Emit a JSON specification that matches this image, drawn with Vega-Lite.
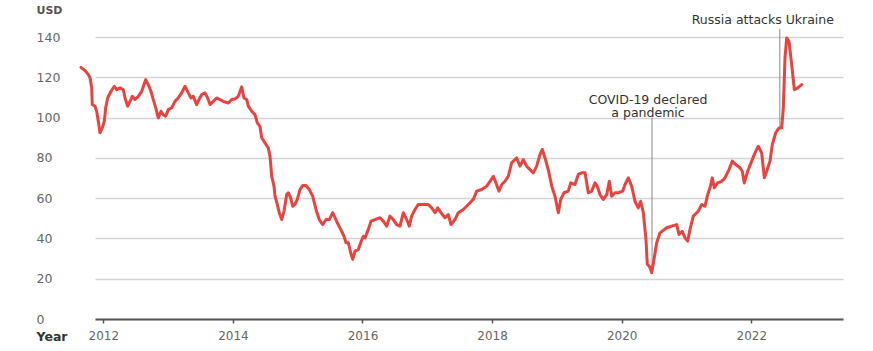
{
  "$schema": "https://vega.github.io/schema/vega-lite/v6.json",
  "width": 748,
  "height": 302,
  "autosize": "none",
  "padding": {"left": 95, "top": 17, "right": 30, "bottom": 32},
  "background": "white",
  "config": {
    "view": {"stroke": null},
    "font": "DejaVu Sans"
  },
  "datasets": {
    "prices": [
      {"year": 2011.656, "price_usd": 125.0}, {"year": 2011.718, "price_usd": 123.4}, {"year": 2011.769, "price_usd": 121.4},
      {"year": 2011.795, "price_usd": 119.8}, {"year": 2011.821, "price_usd": 114.8}, {"year": 2011.830, "price_usd": 106.5},
      {"year": 2011.872, "price_usd": 105.7}, {"year": 2011.898, "price_usd": 103.2}, {"year": 2011.923, "price_usd": 98.2},
      {"year": 2011.949, "price_usd": 92.5}, {"year": 2011.985, "price_usd": 94.9}, {"year": 2012.015, "price_usd": 98.2},
      {"year": 2012.037, "price_usd": 104.9}, {"year": 2012.068, "price_usd": 109.8}, {"year": 2012.119, "price_usd": 113.1},
      {"year": 2012.170, "price_usd": 115.6}, {"year": 2012.207, "price_usd": 113.9}, {"year": 2012.258, "price_usd": 114.8},
      {"year": 2012.309, "price_usd": 113.9}, {"year": 2012.335, "price_usd": 109.8}, {"year": 2012.377, "price_usd": 105.7},
      {"year": 2012.412, "price_usd": 108.1}, {"year": 2012.448, "price_usd": 110.6}, {"year": 2012.489, "price_usd": 109.0},
      {"year": 2012.540, "price_usd": 110.6}, {"year": 2012.593, "price_usd": 113.1}, {"year": 2012.654, "price_usd": 118.9},
      {"year": 2012.694, "price_usd": 116.4}, {"year": 2012.736, "price_usd": 113.1}, {"year": 2012.772, "price_usd": 109.0},
      {"year": 2012.809, "price_usd": 104.9}, {"year": 2012.849, "price_usd": 99.9}, {"year": 2012.890, "price_usd": 103.2},
      {"year": 2012.926, "price_usd": 101.5}, {"year": 2012.963, "price_usd": 100.7}, {"year": 2013.003, "price_usd": 104.0},
      {"year": 2013.056, "price_usd": 104.9}, {"year": 2013.106, "price_usd": 108.1}, {"year": 2013.157, "price_usd": 109.8},
      {"year": 2013.210, "price_usd": 112.3}, {"year": 2013.261, "price_usd": 115.6}, {"year": 2013.312, "price_usd": 112.3},
      {"year": 2013.353, "price_usd": 109.8}, {"year": 2013.389, "price_usd": 110.6}, {"year": 2013.441, "price_usd": 106.5},
      {"year": 2013.477, "price_usd": 109.0}, {"year": 2013.519, "price_usd": 111.5}, {"year": 2013.569, "price_usd": 112.3},
      {"year": 2013.611, "price_usd": 109.8}, {"year": 2013.647, "price_usd": 106.5}, {"year": 2013.698, "price_usd": 108.1},
      {"year": 2013.750, "price_usd": 109.8}, {"year": 2013.801, "price_usd": 109.0}, {"year": 2013.852, "price_usd": 108.1},
      {"year": 2013.929, "price_usd": 107.3}, {"year": 2013.981, "price_usd": 109.0}, {"year": 2014.032, "price_usd": 109.3},
      {"year": 2014.083, "price_usd": 110.6}, {"year": 2014.136, "price_usd": 115.3}, {"year": 2014.171, "price_usd": 109.8},
      {"year": 2014.213, "price_usd": 109.0}, {"year": 2014.238, "price_usd": 105.7}, {"year": 2014.290, "price_usd": 103.2},
      {"year": 2014.341, "price_usd": 101.5}, {"year": 2014.377, "price_usd": 97.4}, {"year": 2014.418, "price_usd": 95.7},
      {"year": 2014.444, "price_usd": 90.0}, {"year": 2014.495, "price_usd": 87.5}, {"year": 2014.546, "price_usd": 85.0},
      {"year": 2014.573, "price_usd": 80.8}, {"year": 2014.599, "price_usd": 70.9}, {"year": 2014.634, "price_usd": 66.0},
      {"year": 2014.650, "price_usd": 61.0}, {"year": 2014.685, "price_usd": 56.9}, {"year": 2014.716, "price_usd": 52.8},
      {"year": 2014.753, "price_usd": 49.4}, {"year": 2014.789, "price_usd": 53.5}, {"year": 2014.830, "price_usd": 61.8},
      {"year": 2014.855, "price_usd": 62.7}, {"year": 2014.892, "price_usd": 60.2}, {"year": 2014.923, "price_usd": 56.0},
      {"year": 2014.958, "price_usd": 56.9}, {"year": 2014.994, "price_usd": 59.4}, {"year": 2015.035, "price_usd": 64.3},
      {"year": 2015.077, "price_usd": 66.3}, {"year": 2015.128, "price_usd": 66.3}, {"year": 2015.179, "price_usd": 64.3},
      {"year": 2015.231, "price_usd": 61.0}, {"year": 2015.282, "price_usd": 54.4}, {"year": 2015.333, "price_usd": 49.4},
      {"year": 2015.386, "price_usd": 46.9}, {"year": 2015.437, "price_usd": 49.4}, {"year": 2015.488, "price_usd": 49.4},
      {"year": 2015.540, "price_usd": 52.8}, {"year": 2015.576, "price_usd": 50.3}, {"year": 2015.611, "price_usd": 47.8},
      {"year": 2015.664, "price_usd": 44.5}, {"year": 2015.715, "price_usd": 41.1}, {"year": 2015.745, "price_usd": 37.9},
      {"year": 2015.781, "price_usd": 37.9}, {"year": 2015.818, "price_usd": 32.9}, {"year": 2015.849, "price_usd": 29.6},
      {"year": 2015.884, "price_usd": 33.7}, {"year": 2015.935, "price_usd": 34.5}, {"year": 2015.972, "price_usd": 37.9},
      {"year": 2016.012, "price_usd": 41.1}, {"year": 2016.039, "price_usd": 40.3}, {"year": 2016.090, "price_usd": 44.5},
      {"year": 2016.131, "price_usd": 48.6}, {"year": 2016.193, "price_usd": 49.4}, {"year": 2016.270, "price_usd": 50.3},
      {"year": 2016.321, "price_usd": 48.6}, {"year": 2016.373, "price_usd": 46.1}, {"year": 2016.424, "price_usd": 51.1},
      {"year": 2016.475, "price_usd": 49.4}, {"year": 2016.528, "price_usd": 46.9}, {"year": 2016.579, "price_usd": 46.1},
      {"year": 2016.630, "price_usd": 52.8}, {"year": 2016.682, "price_usd": 49.4}, {"year": 2016.722, "price_usd": 46.1},
      {"year": 2016.759, "price_usd": 51.1}, {"year": 2016.810, "price_usd": 54.4}, {"year": 2016.861, "price_usd": 56.9},
      {"year": 2016.938, "price_usd": 56.9}, {"year": 2017.015, "price_usd": 56.9}, {"year": 2017.068, "price_usd": 55.2},
      {"year": 2017.119, "price_usd": 52.8}, {"year": 2017.160, "price_usd": 55.2}, {"year": 2017.211, "price_usd": 52.8},
      {"year": 2017.273, "price_usd": 50.3}, {"year": 2017.324, "price_usd": 51.9}, {"year": 2017.366, "price_usd": 46.9},
      {"year": 2017.427, "price_usd": 49.4}, {"year": 2017.478, "price_usd": 52.8}, {"year": 2017.556, "price_usd": 54.4},
      {"year": 2017.633, "price_usd": 56.9}, {"year": 2017.710, "price_usd": 59.4}, {"year": 2017.762, "price_usd": 63.5},
      {"year": 2017.840, "price_usd": 64.3}, {"year": 2017.917, "price_usd": 66.0}, {"year": 2017.968, "price_usd": 68.4},
      {"year": 2018.019, "price_usd": 70.9}, {"year": 2018.060, "price_usd": 67.6}, {"year": 2018.106, "price_usd": 63.5},
      {"year": 2018.148, "price_usd": 66.8}, {"year": 2018.199, "price_usd": 68.4}, {"year": 2018.250, "price_usd": 70.9},
      {"year": 2018.302, "price_usd": 77.6}, {"year": 2018.380, "price_usd": 80.0}, {"year": 2018.431, "price_usd": 75.9},
      {"year": 2018.481, "price_usd": 79.2}, {"year": 2018.534, "price_usd": 75.9}, {"year": 2018.585, "price_usd": 74.2},
      {"year": 2018.636, "price_usd": 72.6}, {"year": 2018.688, "price_usd": 75.9}, {"year": 2018.739, "price_usd": 81.7},
      {"year": 2018.775, "price_usd": 84.2}, {"year": 2018.816, "price_usd": 80.0}, {"year": 2018.867, "price_usd": 74.2},
      {"year": 2018.920, "price_usd": 66.0}, {"year": 2018.971, "price_usd": 61.0}, {"year": 2019.022, "price_usd": 52.8},
      {"year": 2019.059, "price_usd": 59.4}, {"year": 2019.110, "price_usd": 62.7}, {"year": 2019.176, "price_usd": 63.5},
      {"year": 2019.213, "price_usd": 67.6}, {"year": 2019.279, "price_usd": 66.8}, {"year": 2019.330, "price_usd": 71.8},
      {"year": 2019.383, "price_usd": 72.6}, {"year": 2019.434, "price_usd": 72.6}, {"year": 2019.485, "price_usd": 62.7},
      {"year": 2019.537, "price_usd": 63.5}, {"year": 2019.588, "price_usd": 67.6}, {"year": 2019.623, "price_usd": 66.0},
      {"year": 2019.665, "price_usd": 61.8}, {"year": 2019.716, "price_usd": 59.4}, {"year": 2019.769, "price_usd": 61.8},
      {"year": 2019.809, "price_usd": 68.4}, {"year": 2019.846, "price_usd": 61.0}, {"year": 2019.897, "price_usd": 62.7},
      {"year": 2019.948, "price_usd": 62.7}, {"year": 2020.015, "price_usd": 63.5}, {"year": 2020.051, "price_usd": 66.8},
      {"year": 2020.102, "price_usd": 70.1}, {"year": 2020.154, "price_usd": 66.0}, {"year": 2020.205, "price_usd": 58.5},
      {"year": 2020.256, "price_usd": 55.2}, {"year": 2020.293, "price_usd": 58.5}, {"year": 2020.333, "price_usd": 52.8},
      {"year": 2020.375, "price_usd": 39.5}, {"year": 2020.395, "price_usd": 27.1}, {"year": 2020.426, "price_usd": 26.3},
      {"year": 2020.463, "price_usd": 23.0}, {"year": 2020.498, "price_usd": 29.6}, {"year": 2020.540, "price_usd": 37.9},
      {"year": 2020.591, "price_usd": 42.8}, {"year": 2020.694, "price_usd": 45.3}, {"year": 2020.772, "price_usd": 46.1},
      {"year": 2020.849, "price_usd": 46.9}, {"year": 2020.884, "price_usd": 42.0}, {"year": 2020.935, "price_usd": 43.6},
      {"year": 2020.977, "price_usd": 40.3}, {"year": 2021.019, "price_usd": 38.7}, {"year": 2021.054, "price_usd": 44.5},
      {"year": 2021.105, "price_usd": 51.1}, {"year": 2021.182, "price_usd": 53.5}, {"year": 2021.235, "price_usd": 56.9},
      {"year": 2021.285, "price_usd": 56.0}, {"year": 2021.327, "price_usd": 61.8}, {"year": 2021.363, "price_usd": 65.2},
      {"year": 2021.398, "price_usd": 70.1}, {"year": 2021.429, "price_usd": 65.2}, {"year": 2021.481, "price_usd": 67.6},
      {"year": 2021.543, "price_usd": 68.4}, {"year": 2021.594, "price_usd": 70.1}, {"year": 2021.656, "price_usd": 74.2},
      {"year": 2021.707, "price_usd": 78.4}, {"year": 2021.759, "price_usd": 76.7}, {"year": 2021.826, "price_usd": 75.1},
      {"year": 2021.861, "price_usd": 73.4}, {"year": 2021.892, "price_usd": 67.6}, {"year": 2021.944, "price_usd": 73.4},
      {"year": 2022.006, "price_usd": 78.4}, {"year": 2022.057, "price_usd": 82.5}, {"year": 2022.108, "price_usd": 85.8},
      {"year": 2022.160, "price_usd": 82.5}, {"year": 2022.201, "price_usd": 70.1}, {"year": 2022.238, "price_usd": 73.4},
      {"year": 2022.289, "price_usd": 78.4}, {"year": 2022.324, "price_usd": 86.6}, {"year": 2022.377, "price_usd": 92.5},
      {"year": 2022.427, "price_usd": 94.9}, {"year": 2022.469, "price_usd": 94.9}, {"year": 2022.494, "price_usd": 104.9},
      {"year": 2022.520, "price_usd": 129.7}, {"year": 2022.546, "price_usd": 139.6}, {"year": 2022.582, "price_usd": 137.9},
      {"year": 2022.623, "price_usd": 126.4}, {"year": 2022.664, "price_usd": 113.9}, {"year": 2022.716, "price_usd": 114.8},
      {"year": 2022.778, "price_usd": 116.4}
    ],
    "events": [
      {"event": "COVID-19 declared a pandemic", "year": 2020.468, "label_top": 100, "price_usd": 24},
      {"event": "Russia attacks Ukraine", "year": 2022.44, "label_top": 144, "price_usd": 95}
    ]
  },
  "layer": [
    {
      "data": {"name": "events"},
      "mark": {"type": "rule", "color": "#8a8a8a", "strokeWidth": 1},
      "encoding": {
        "x": {"field": "year", "type": "quantitative", "scale": {"domain": [2011.872, 2023.415]}},
        "y": {"field": "label_top", "type": "quantitative"},
        "y2": {"field": "price_usd"}
      }
    },
    {
      "data": {"name": "prices"},
      "mark": {"type": "line", "color": "#e8433e", "strokeWidth": 3, "strokeJoin": "round", "strokeCap": "round"},
      "encoding": {
        "x": {
          "field": "year",
          "type": "quantitative",
          "scale": {"domain": [2011.872, 2023.415], "nice": false, "zero": false},
          "axis": {
            "values": [2012, 2014, 2016, 2018, 2020, 2022],
            "format": "d",
            "grid": false,
            "domainColor": "#555555",
            "domainWidth": 2,
            "tickColor": "#555555",
            "tickSize": 4,
            "tickWidth": 1.5,
            "labelPadding": 7,
            "labelFontSize": 12,
            "labelColor": "#666666",
            "title": "Year",
            "titleX": -59,
            "titleY": 17,
            "titleAlign": "left",
            "titleAnchor": "start",
            "titleBaseline": "middle",
            "titleFontSize": 12.5,
            "titleFontWeight": "bold",
            "titleColor": "#333333"
          }
        },
        "y": {
          "field": "price_usd",
          "type": "quantitative",
          "scale": {"domain": [0, 150], "nice": false},
          "axis": {
            "values": [0, 20, 40, 60, 80, 100, 120, 140],
            "grid": true,
            "gridColor": "#d3d3d3",
            "gridWidth": 1.5,
            "domain": false,
            "ticks": false,
            "tickSize": 0,
            "labelAlign": "left",
            "labelPadding": 59,
            "labelFontSize": 12.5,
            "labelColor": "#666666",
            "title": "USD",
            "titleAngle": 0,
            "titleX": -59,
            "titleY": -7,
            "titleAlign": "left",
            "titleBaseline": "middle",
            "titleFontSize": 11,
            "titleFontWeight": "bold",
            "titleColor": "#555555"
          }
        }
      }
    },
    {
      "data": {"name": "events"},
      "transform": [{"filter": "datum.year < 2021"}],
      "mark": {"type": "text", "align": "center", "baseline": "middle", "dx": -4, "dy": -18, "fontSize": 12.5, "color": "#333333", "lineHeight": 13.5},
      "encoding": {
        "x": {"field": "year", "type": "quantitative"},
        "y": {"field": "label_top", "type": "quantitative"},
        "text": {"value": ["COVID-19 declared", "a pandemic"]}
      }
    },
    {
      "data": {"name": "events"},
      "transform": [{"filter": "datum.year > 2021"}],
      "mark": {"type": "text", "align": "center", "baseline": "middle", "dx": -17, "dy": -9, "fontSize": 12.5, "color": "#333333"},
      "encoding": {
        "x": {"field": "year", "type": "quantitative"},
        "y": {"field": "label_top", "type": "quantitative"},
        "text": {"field": "event"}
      }
    }
  ]
}
